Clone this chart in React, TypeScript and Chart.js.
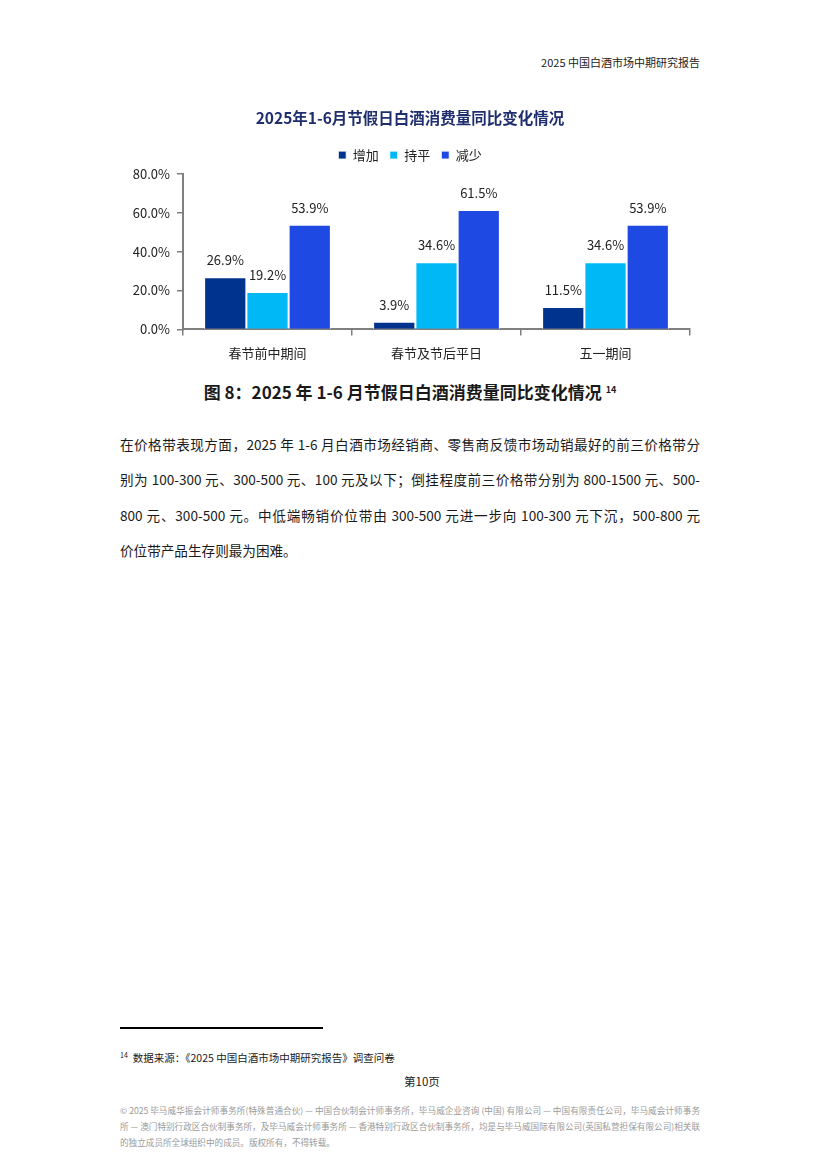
import React, { useEffect, useRef } from "react";
import { Chart, registerables } from "chart.js";

Chart.register(...registerables);

const categories = ["春节前中期间", "春节及节后平日", "五一期间"];
const seriesNames = ["增加", "持平", "减少"];
const increaseValues = [26.9, 3.9, 11.5];
const flatValues = [19.2, 34.6, 34.6];
const decreaseValues = [53.9, 61.5, 53.9];
const yTicks = [0, 20, 40, 60, 80];
const seriesColors = ["#00338D", "#00B8F5", "#1E49E2"];

const chartTitle = "2025年1-6月节假日白酒消费量同比变化情况";
const headerText = "2025 中国白酒市场中期研究报告";
const captionText = "图 8：2025 年 1-6 月节假日白酒消费量同比变化情况";
const bodyLines = [
  "在价格带表现方面，2025 年 1-6 月白酒市场经销商、零售商反馈市场动销最好的前三价格带分",
  "别为 100-300 元、300-500 元、100 元及以下；倒挂程度前三价格带分别为 800-1500 元、500-",
  "800 元、300-500 元。中低端畅销价位带由 300-500 元进一步向 100-300 元下沉，500-800 元",
  "价位带产品生存则最为困难。",
];
const footnoteText = "数据来源：《2025 中国白酒市场中期研究报告》调查问卷";
const pageText = "第10页";
const footerLines = [
  "© 2025  毕马威华振会计师事务所(特殊普通合伙) — 中国合伙制会计师事务所，毕马威企业咨询 (中国) 有限公司 — 中国有限责任公司，毕马威会计师事务",
  "所 — 澳门特别行政区合伙制事务所，及毕马威会计师事务所 — 香港特别行政区合伙制事务所，均是与毕马威国际有限公司(英国私营担保有限公司)相关联",
  "的独立成员所全球组织中的成员。版权所有，不得转载。",
];

const FONT = "'Noto Sans CJK SC', 'Noto Sans', sans-serif";

const valueLabelPlugin = {
  id: "valueLabels",
  afterDatasetsDraw(chart: any) {
    const ctx = chart.ctx;
    ctx.save();
    ctx.font = `13px ${FONT}`;
    ctx.fillStyle = "#222";
    ctx.textAlign = "center";
    ctx.textBaseline = "middle";
    chart.data.datasets.forEach((ds: any, di: number) => {
      const meta = chart.getDatasetMeta(di);
      meta.data.forEach((bar: any, i: number) => {
        const v = ds.data[i];
        ctx.fillText(v.toFixed(1) + "%", bar.x, bar.y - 17);
      });
    });
    ctx.restore();
  },
};

// adds a little space under the legend row
const legendGapPlugin = {
  id: "legendGap",
  beforeLayout(chart: any) {
    const lg = chart.legend;
    if (lg && !lg.__gapPatched) {
      const orig = lg.fit.bind(lg);
      lg.fit = function () {
        orig();
        this.height += 2.4;
      };
      lg.__gapPatched = true;
    }
  },
};

function ChartBox() {
  const ref = useRef<HTMLCanvasElement | null>(null);
  useEffect(() => {
    if (!ref.current) return;
    const allSeries = [increaseValues, flatValues, decreaseValues];
    const chart = new Chart(ref.current, {
      type: "bar",
      data: {
        labels: categories,
        datasets: allSeries.map((vals, i) => ({
          label: seriesNames[i],
          data: vals,
          backgroundColor: seriesColors[i],
          borderColor: "#ffffff",
          borderWidth: 1,
          categoryPercentage: 0.75,
          barPercentage: 1.0,
        })),
      },
      options: {
        responsive: false,
        animation: false,
        devicePixelRatio: 1,
        layout: { padding: { top: 9, right: 30, left: 30, bottom: 0 } },
        plugins: {
          title: {
            display: true,
            text: chartTitle,
            color: "#1F2E6E",
            font: { family: FONT, size: 15.5, weight: "bold" },
            padding: { top: 0, bottom: 10 },
          },
          legend: {
            display: true,
            position: "top",
            labels: {
              boxWidth: 8,
              boxHeight: 8,
              padding: 11,
              color: "#222",
              font: { family: FONT, size: 13 },
            },
          },
          tooltip: { enabled: false },
        },
        scales: {
          x: {
            grid: {
              display: true,
              drawOnChartArea: false,
              drawTicks: true,
              tickLength: 6,
              color: "#7f7f7f",
              lineWidth: 1.5,
              offset: true,
            },
            border: { display: true, color: "#7f7f7f", width: 2 },
            ticks: {
              color: "#222",
              font: { family: FONT, size: 13 },
              padding: 10,
            },
          },
          y: {
            min: 0,
            max: 80,
            afterBuildTicks(scale: any) {
              scale.ticks = yTicks.map((v) => ({ value: v }));
            },
            afterFit(scale: any) {
              scale.width = 53;
            },
            grid: {
              display: true,
              drawOnChartArea: false,
              drawTicks: true,
              tickLength: 6,
              color: "#7f7f7f",
              lineWidth: 1.5,
            },
            border: { display: true, color: "#7f7f7f", width: 2 },
            ticks: {
              color: "#222",
              font: { family: FONT, size: 13 },
              padding: 7,
              callback: (v: any) => Number(v).toFixed(1) + "%",
            },
          },
        },
      },
      plugins: [legendGapPlugin, valueLabelPlugin],
    } as any);
    return () => chart.destroy();
  }, []);
  return (
    <canvas
      ref={ref}
      width={620}
      height={271}
      style={{ position: "absolute", left: 100, top: 100, width: 620, height: 271 }}
    />
  );
}

export default function App() {
  return (
    <div
      style={{
        position: "absolute",
        left: 0,
        top: 0,
        width: 820,
        height: 1164,
        background: "#fff",
        fontFamily: FONT,
        color: "#1a1a1a",
        overflow: "hidden",
      }}
    >
      <div
        style={{
          position: "absolute",
          right: 120,
          top: 53,
          fontSize: 11,
          lineHeight: "18px",
          color: "#222",
        }}
      >
        {headerText}
      </div>

      <ChartBox />

      <div
        style={{
          position: "absolute",
          left: 0,
          width: 820,
          top: 380,
          textAlign: "center",
          fontSize: 17,
          lineHeight: "24px",
          fontWeight: "bold",
          color: "#1a1a1a",
        }}
      >
        {captionText}
        <sup style={{ fontSize: 9, marginLeft: 4, verticalAlign: "6px", lineHeight: 0 }}>14</sup>
      </div>

      <div style={{ position: "absolute", left: 120, width: 580, top: 427 }}>
        {bodyLines.map((line, i) => (
          <div
            key={i}
            style={{
              fontSize: 13.6,
              lineHeight: "35.3px",
              height: 35.3,
              whiteSpace: "nowrap",
              textAlign: "justify",
              textAlignLast: i === bodyLines.length - 1 ? "left" : "justify",
              color: "#1a1a1a",
            } as any}
          >
            {line}
          </div>
        ))}
      </div>

      <div
        style={{
          position: "absolute",
          left: 120,
          top: 1027,
          width: 203,
          height: 2,
          background: "#000",
        }}
      />

      <div
        style={{
          position: "absolute",
          left: 120,
          top: 1050,
          fontSize: 10.5,
          lineHeight: "16px",
          color: "#1a1a1a",
        }}
      >
        <sup style={{ fontSize: 7, verticalAlign: "4px", lineHeight: 0, marginRight: 5 }}>14</sup>
        {footnoteText}
      </div>

      <div
        style={{
          position: "absolute",
          left: 0,
          width: 844,
          top: 1073,
          textAlign: "center",
          fontSize: 11.5,
          lineHeight: "16px",
          color: "#1a1a1a",
        }}
      >
        {pageText}
      </div>

      <div style={{ position: "absolute", left: 120, width: 580, top: 1102 }}>
        {footerLines.map((line, i) => (
          <div
            key={i}
            style={{
              fontSize: 8.6,
              lineHeight: "16px",
              height: 16,
              textAlign: "justify",
              textAlignLast: i === footerLines.length - 1 ? "left" : "justify",
              color: "#9a9a9a",
              whiteSpace: "nowrap",
            } as any}
          >
            {line}
          </div>
        ))}
      </div>
    </div>
  );
}
